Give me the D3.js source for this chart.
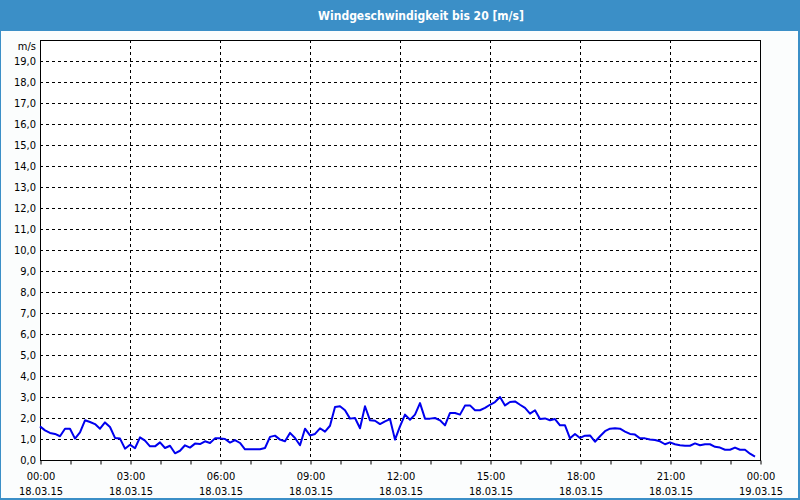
<!DOCTYPE html>
<html>
<head>
<meta charset="utf-8">
<script src="https://cdn.jsdelivr.net/npm/d3@7"></script>
<style>
  html, body { margin: 0; padding: 0; background: #ffffff; }
  svg { display: block; }
  text { font-family: "DejaVu Sans Condensed", "Liberation Sans", sans-serif; }
</style>
</head>
<body>
<svg id="chart" width="800" height="500"></svg>
<script>
// ---- data ----
const titleText = "Windgeschwindigkeit bis 20 [m/s]";
const unitLabel = "m/s";
const intervalMinutes = 10;
const windSpeed = [
  1.60, 1.41, 1.29, 1.24, 1.13, 1.49, 1.49, 1.02, 1.32, 1.89,
  1.81, 1.71, 1.49, 1.79, 1.57, 1.05, 1.02, 0.54, 0.73, 0.56,
  1.08, 0.92, 0.65, 0.65, 0.84, 0.57, 0.68, 0.32, 0.44, 0.70,
  0.59, 0.78, 0.76, 0.89, 0.81, 1.03, 1.03, 1.00, 0.83, 0.95,
  0.81, 0.51, 0.51, 0.51, 0.51, 0.57, 1.10, 1.16, 0.97, 0.89,
  1.29, 1.05, 0.70, 1.49, 1.17, 1.24, 1.51, 1.35, 1.63, 2.52,
  2.56, 2.37, 1.97, 2.00, 1.51, 2.56, 1.89, 1.87, 1.71, 1.84,
  1.95, 0.97, 1.60, 2.16, 1.92, 2.16, 2.71, 1.97, 1.97, 2.00,
  1.89, 1.65, 2.24, 2.24, 2.16, 2.59, 2.60, 2.37, 2.37, 2.48,
  2.63, 2.76, 3.00, 2.60, 2.76, 2.79, 2.63, 2.48, 2.21, 2.37,
  1.95, 1.98, 1.89, 1.95, 1.65, 1.65, 1.03, 1.24, 1.05, 1.16,
  1.17, 0.87, 1.13, 1.37, 1.49, 1.51, 1.49, 1.35, 1.24, 1.21,
  1.03, 1.03, 0.98, 0.95, 0.89, 0.75, 0.84, 0.75, 0.70, 0.68,
  0.68, 0.79, 0.70, 0.75, 0.75, 0.63, 0.59, 0.49, 0.49, 0.59,
  0.49, 0.49, 0.30, 0.16
];
const xTickHours = [0, 3, 6, 9, 12, 15, 18, 21, 24];
const timeLabels = ["00:00", "03:00", "06:00", "09:00", "12:00", "15:00", "18:00", "21:00", "00:00"];
const dateLabels = ["18.03.15", "18.03.15", "18.03.15", "18.03.15", "18.03.15", "18.03.15", "18.03.15", "18.03.15", "19.03.15"];
const yTicks = d3.range(0, 20, 1);

// ---- layout ----
const W = 800, H = 500;
const plot = { left: 40, right: 760, top: 40, bottom: 460 };
const svg = d3.select("#chart");

const x = d3.scaleLinear().domain([0, 24]).range([plot.left, plot.right]);
const y = d3.scaleLinear().domain([0, 20]).range([plot.bottom, plot.top]);

// background + frame
svg.append("rect").attr("x", 0).attr("y", 0).attr("width", W).attr("height", H).attr("fill", "#3b8fc7");
svg.append("rect").attr("x", 1).attr("y", 31).attr("width", W - 3).attr("height", H - 33).attr("fill", "#fbfdfd");
svg.append("text").attr("x", 421).attr("y", 16).attr("text-anchor", "middle").attr("dominant-baseline", "central")
  .attr("fill", "#ffffff").attr("font-weight", "bold").attr("font-size", "12px").text(titleText);

// plot area
svg.append("rect").attr("x", plot.left).attr("y", plot.top)
  .attr("width", plot.right - plot.left).attr("height", plot.bottom - plot.top).attr("fill", "#ffffff");

// horizontal grid
svg.append("g").selectAll("line").data(yTicks.filter(d => d > 0)).join("line")
  .attr("x1", plot.left).attr("x2", plot.right)
  .attr("y1", d => Math.round(y(d)) + 0.5).attr("y2", d => Math.round(y(d)) + 0.5)
  .attr("stroke", "#000").attr("stroke-width", 1).attr("stroke-dasharray", "3,3");

// vertical grid
svg.append("g").selectAll("line").data(xTickHours.filter(h => h > 0 && h < 24)).join("line")
  .attr("x1", d => Math.round(x(d)) + 0.5).attr("x2", d => Math.round(x(d)) + 0.5)
  .attr("y1", plot.top).attr("y2", plot.bottom)
  .attr("stroke", "#000").attr("stroke-width", 1).attr("stroke-dasharray", "3,3");

// border
svg.append("rect").attr("x", plot.left + 0.5).attr("y", plot.top + 0.5)
  .attr("width", plot.right - plot.left).attr("height", plot.bottom - plot.top)
  .attr("fill", "none").attr("stroke", "#000").attr("stroke-width", 1);

// x axis (hourly ticks)
const xAxis = d3.axisBottom(x).tickValues(d3.range(0, 25, 1)).tickSize(4).tickFormat("");
const gx = svg.append("g").attr("transform", `translate(0.5,${plot.bottom + 0.5})`).call(xAxis);
gx.select(".domain").remove();
gx.selectAll(".tick line").attr("stroke", "#000");

// x labels
const xl = svg.append("g").attr("font-size", "11px").attr("fill", "#000").attr("text-anchor", "middle");
xl.selectAll("text.t").data(xTickHours).join("text").attr("class", "t")
  .attr("x", d => x(d) + 1).attr("y", 476).attr("dominant-baseline", "central")
  .text((d, i) => timeLabels[i]);
xl.selectAll("text.d").data(xTickHours).join("text").attr("class", "d")
  .attr("x", d => x(d) + 1).attr("y", 491).attr("dominant-baseline", "central")
  .text((d, i) => dateLabels[i]);

// y labels
const yAxis = d3.axisLeft(y).tickValues(yTicks).tickSize(0).tickPadding(4)
  .tickFormat(d => d3.format(".1f")(d).replace(".", ","));
const gy = svg.append("g").attr("transform", `translate(${plot.left},0)`).call(yAxis);
gy.select(".domain").remove();
gy.selectAll("text").attr("font-size", "11px").attr("fill", "#000")
  .attr("font-family", "DejaVu Sans Condensed, Liberation Sans, sans-serif");
svg.append("text").attr("x", 36).attr("y", 46).attr("text-anchor", "end").attr("dominant-baseline", "central")
  .attr("font-size", "11px").attr("fill", "#000").text(unitLabel);

// data line
const line = d3.line()
  .x((d, i) => x(i * intervalMinutes / 60))
  .y(d => y(d));
svg.append("path").datum(windSpeed).attr("d", line)
  .attr("fill", "none").attr("stroke", "#0000ee").attr("stroke-width", 2).attr("stroke-linejoin", "round");
</script>
</body>
</html>
